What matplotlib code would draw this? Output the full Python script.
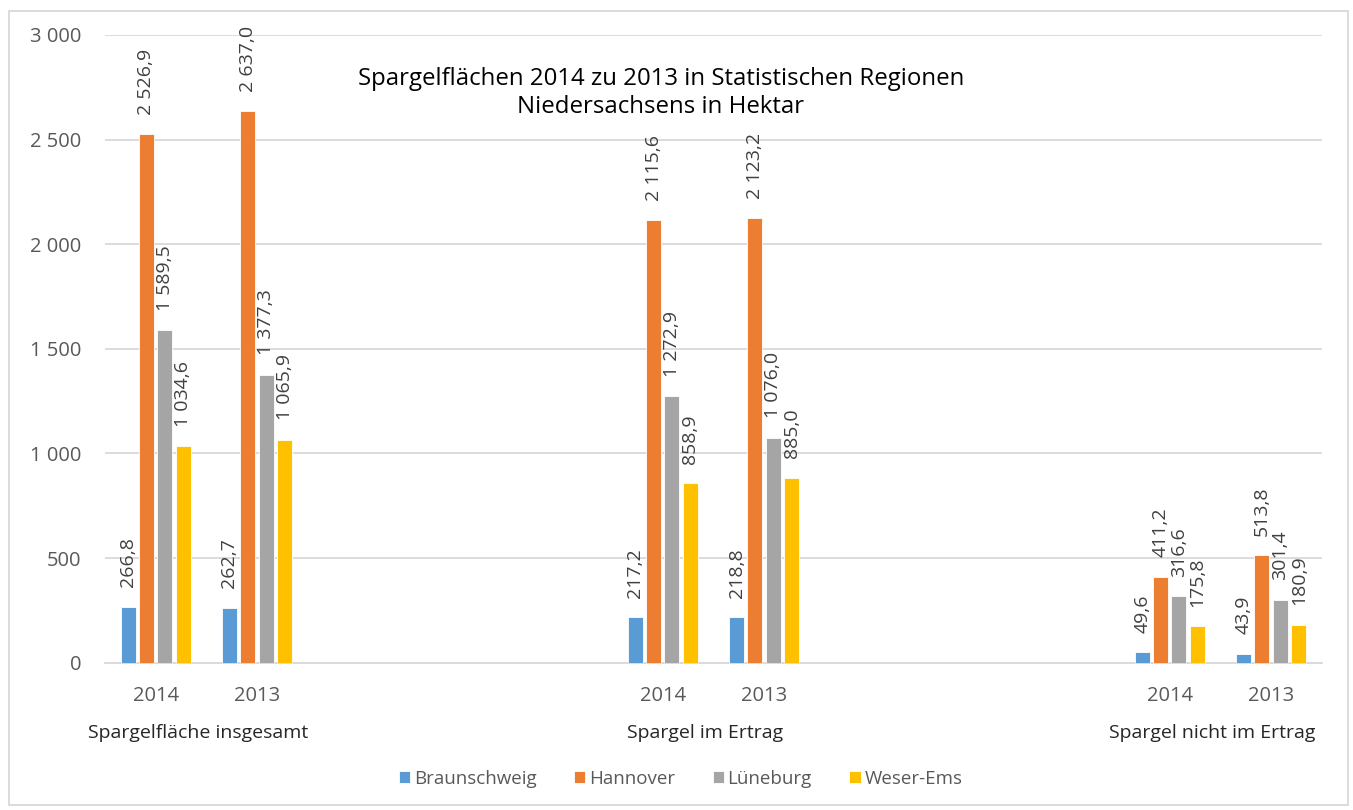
import numpy as np
import matplotlib
matplotlib.use("Agg")
from matplotlib import pyplot as plt
from matplotlib.patches import Rectangle

plt.rcParams['font.family'] = ['Open Sans', 'DejaVu Sans']

# category axis (Excel-style, with empty slots between the groups)
year_labels = ["2014", "2013", "", "", "", "2014", "2013", "", "", "", "2014", "2013"]
group_labels = ["Spargelfläche insgesamt", "Spargel im Ertrag", "Spargel nicht im Ertrag"]

# values for the filled slots, in order of year_labels
series_names = ["Braunschweig", "Hannover", "Lüneburg", "Weser-Ems"]
braunschweig = [266.8, 262.7, 217.2, 218.8, 49.6, 43.9]
hannover = [2526.9, 2637.0, 2115.6, 2123.2, 411.2, 513.8]
lueneburg = [1589.5, 1377.3, 1272.9, 1076.0, 316.6, 301.4]
weser_ems = [1034.6, 1065.9, 858.9, 885.0, 175.8, 180.9]

colors = ["#5B9BD5", "#ED7D31", "#A5A5A5", "#FFC000"]
text_grey = "#595959"


def de_num(v, dec=1):
    s = f"{v:,.{dec}f}"
    return s.replace(",", " ").replace(".", ",")


fig = plt.figure(figsize=(13.53, 8.10), dpi=100)
ax = fig.add_axes([0.0776, 0.1818, 0.8994, 0.775])

slots = np.arange(len(year_labels))
filled = slots[[lab != "" for lab in year_labels]]

step = 0.1815
width = 0.148
all_series = [braunschweig, hannover, lueneburg, weser_ems]
for i, (name, vals) in enumerate(zip(series_names, all_series)):
    xs = filled + (i - 1.5) * step
    bars = ax.bar(xs, vals, width=width, color=colors[i], edgecolor="white",
                  linewidth=0.6, label=name, zorder=3)
    for b, v in zip(bars, vals):
        ax.annotate(de_num(v), (b.get_x() + b.get_width() / 2, v),
                    xytext=(0, 14), textcoords="offset points",
                    rotation=90, ha="center", va="bottom",
                    fontsize=14, color="#404040")

ax.set_xlim(-0.5, len(year_labels) - 0.5)
ax.set_ylim(0, 3000)
ax.set_yticks(np.arange(0, 3001, 500))
ax.set_yticklabels([de_num(t, 0) for t in np.arange(0, 3001, 500)])
ax.set_xticks(filled)
ax.set_xticklabels([year_labels[k] for k in filled])
ax.tick_params(axis="both", length=0, labelsize=14.5, labelcolor=text_grey)
ax.tick_params(axis="x", pad=17)
ax.tick_params(axis="y", pad=17)

ax.grid(axis="y", color="#D9D9D9", linewidth=1.3, zorder=0)
for side in ["top", "right", "left"]:
    ax.spines[side].set_visible(False)
ax.spines["bottom"].set_color("#D9D9D9")
ax.spines["bottom"].set_linewidth(1.3)

# group labels under the year labels
pairs = filled.reshape(-1, 2)
for lab, pr in zip(group_labels, pairs):
    ax.annotate(lab, (pr.mean() - 0.08, 0), xycoords=("data", "axes fraction"),
                xytext=(0, -44), textcoords="offset points",
                ha="center", va="top", fontsize=14, color="#262626")

fig.text(661 / 1353, 1 - 93 / 810,
         "Spargelflächen 2014 zu 2013 in Statistischen Regionen\nNiedersachsens in Hektar",
         ha="center", va="center", fontsize=17.3, color="black", linespacing=1.2)

fig.legend(loc="center", bbox_to_anchor=(0.503, 1 - 779 / 810), ncol=4,
           frameon=False, fontsize=13.5, handlelength=0.6, handleheight=0.6,
           handletextpad=0.2, columnspacing=2.0, labelcolor=text_grey)

fig.patches.append(Rectangle((9 / 1353, 5 / 810), 1339 / 1353, 794 / 810,
                             transform=fig.transFigure, fill=False,
                             edgecolor="#D9D9D9", linewidth=1.3))

fig.savefig("out.png", dpi=100, facecolor="white")
